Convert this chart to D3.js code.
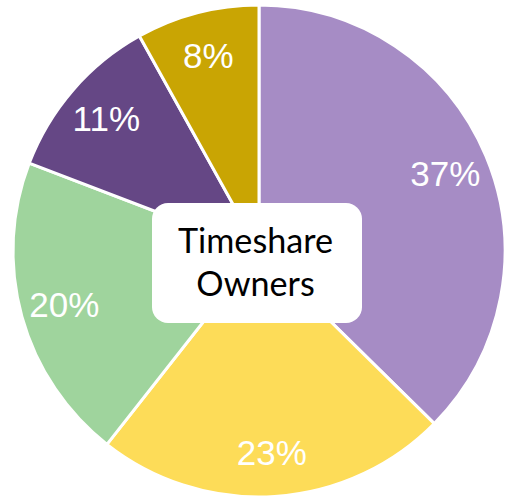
<!DOCTYPE html>
<html>
<head>
<meta charset="utf-8">
<script src="https://cdn.jsdelivr.net/npm/d3@7"></script>
<style>
  html, body { margin: 0; padding: 0; background: #fff; }
  svg { display: block; }
</style>
</head>
<body>
<svg id="chart" width="505" height="501"></svg>
<script>
const categories = ["A", "B", "C", "D", "E"];
const values = [37, 23, 20, 11, 8];
const labels = ["37%", "23%", "20%", "11%", "8%"];
const colors = ["#A68CC5", "#FDDC58", "#9FD49D", "#654785", "#C9A503"];
const centerLines = ["Timeshare", "Owners"];

const svg = d3.select("#chart");
const cx = 259, cy = 251, R = 246;
const g = svg.append("g").attr("transform", `translate(${cx},${cy})`);

const pie = d3.pie().sort(null).value(d => d.value);
const data = pie(categories.map((c, i) => ({ cat: c, value: values[i], label: labels[i], color: colors[i] })));

const arc = d3.arc().innerRadius(0).outerRadius(R);
const labelArc = d3.arc().innerRadius(202).outerRadius(202);

g.selectAll("path.slice").data(data).join("path")
  .attr("class", "slice")
  .attr("d", arc)
  .attr("fill", d => d.data.color)
  .attr("stroke", "#fff")
  .attr("stroke-width", 3)
  .attr("stroke-linejoin", "round");

g.selectAll("text.lbl").data(data).join("text")
  .attr("class", "lbl")
  .attr("transform", d => `translate(${labelArc.centroid(d)})`)
  .attr("text-anchor", "middle")
  .attr("dy", "0.36em")
  .attr("fill", "#fff")
  .style("font-family", "'Liberation Sans', Arial, sans-serif")
  .style("font-size", "35px")
  .text(d => d.data.label);

// center box
const box = g.append("g").attr("transform", "translate(-2,12)");
box.append("rect")
  .attr("x", -105).attr("y", -60)
  .attr("width", 210).attr("height", 120)
  .attr("rx", 16).attr("ry", 16)
  .attr("fill", "#fff");

const t = box.append("text")
  .attr("text-anchor", "middle")
  .attr("fill", "#000")
  .style("font-family", "Lato, 'Open Sans', sans-serif")
  .style("font-size", "36px");
t.selectAll("tspan").data(centerLines).join("tspan")
  .attr("x", -1.5)
  .attr("y", (d, i) => -10 + i * 43)
  .text(d => d);

// fit width of first line to ~155px
const first = t.select("tspan").node();
const w = first.getComputedTextLength();
if (w > 0) {
  const fs = 36 * 155 / w;
  t.style("font-size", fs.toFixed(2) + "px");
}
</script>
</body>
</html>
